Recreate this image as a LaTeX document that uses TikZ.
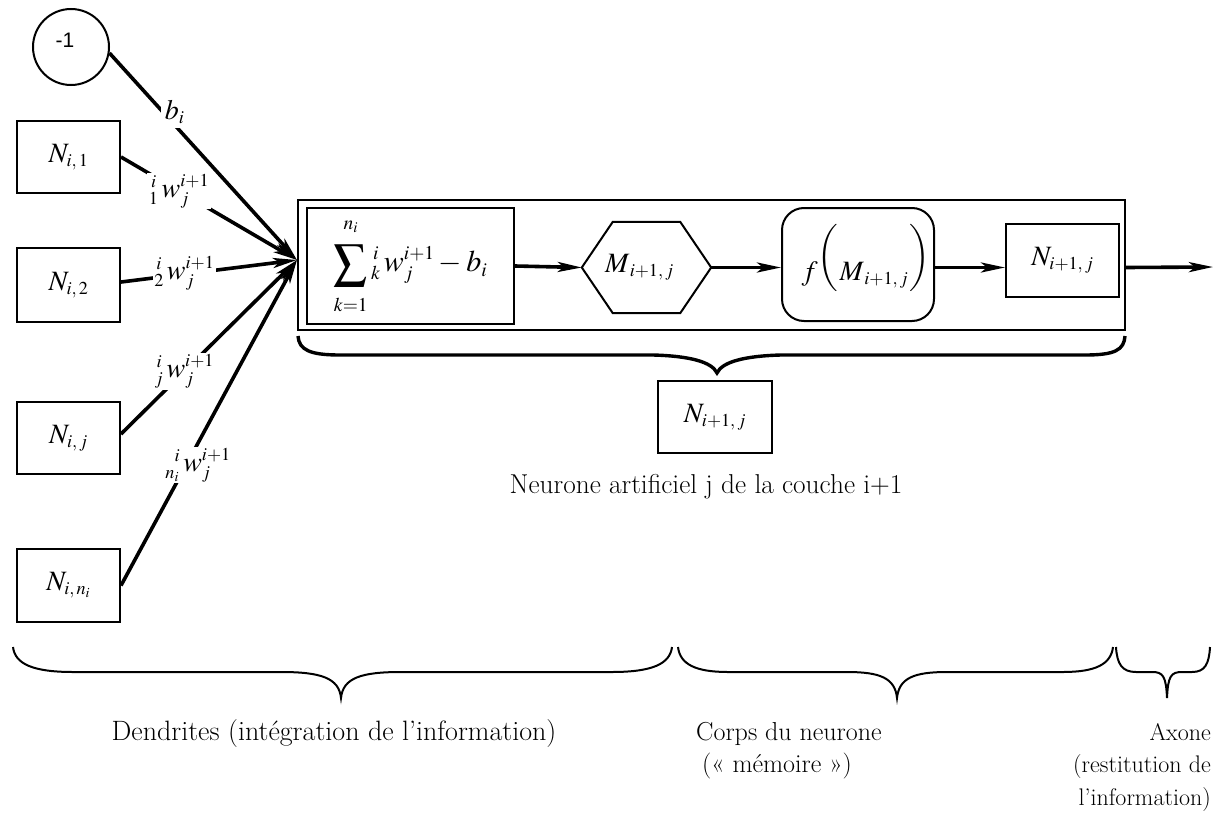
\documentclass[tikz,border=0pt]{standalone}
\usepackage{mathptmx}
\usepackage[no-math]{fontspec}
\renewcommand{\rmdefault}{lmr}
\usepackage{graphicx}
\newfontfamily\arialf{Liberation Sans}
\renewcommand{\defaultscriptratio}{.65}
\renewcommand{\defaultscriptscriptratio}{.5}
\usetikzlibrary{arrows.meta}
\newcommand{\bigsum}{\mathop{\vcenter{\vbox{\kern9pt\hbox{\resizebox*{34pt}{42pt}{$\displaystyle\sum$}}\kern6pt}}}\limits}
\newcommand{\lparen}{\raisebox{16pt}{$\left(\rule[-25pt]{0pt}{64pt}\right.$}}
\newcommand{\rparen}{\raisebox{16pt}{$\left.\rule[-25pt]{0pt}{64pt}\right)$}}
\tikzset{
  nbox/.style={draw, line width=2pt, inner sep=0pt, font=\fontsize{28}{30}\selectfont},
  conn/.style={line width=3.6pt, -{Stealth[length=24pt,width=10pt,inset=6pt]}},
  elab/.style={fill=white, inner sep=1.5pt, font=\fontsize{28}{30}\selectfont},
  bigm/.style={font=\fontsize{28}{30}\selectfont},
  txt/.style={font=\fontsize{26}{32.5}\selectfont, inner sep=0pt},
  thinbrace/.style={line width=2pt},
  thickbrace/.style={line width=3.4pt},
}
\begin{document}
\begin{tikzpicture}[x=1pt,y=-1pt]
\useasboundingbox (0,0) rectangle (1215,816);

% input neurons
\node[circle, draw, line width=2pt, minimum size=76pt, inner sep=0pt, font=\arialf\fontsize{21}{21}\selectfont] (bias) at (71,47)
  {\smash{\raisebox{-1pt}{\makebox[0pt]{-1\hspace*{12pt}}}}};
\node[nbox, minimum width=103pt, minimum height=72pt] (n1) at (68.5,157) {$N_{i,\,1}$};
\node[nbox, minimum width=103pt, minimum height=74pt] (n2) at (68.5,285) {$N_{i,\,2}$};
\node[nbox, minimum width=103pt, minimum height=72pt] (nj) at (68.5,438) {$N_{i,\,j}$};
\node[nbox, minimum width=103pt, minimum height=73pt] (nn) at (68.5,585.5) {$N_{i,\,n_i}$};

% artificial neuron
\node[draw, line width=1.5pt, minimum width=827pt, minimum height=130pt, inner sep=0pt] (outer) at (711.5,265) {};
\node[nbox, font=\fontsize{30}{32}\selectfont, minimum width=207pt, minimum height=116pt] (sum) at (410.5,266)
  {$\displaystyle\bigsum_{k=1}^{n_i}{}^{\,i}_{k}\,w^{i+1}_{j}-b_i$};
\node[bigm, minimum width=129pt, minimum height=91pt, inner sep=0pt] (hex) at (646.5,267.5)
  {$M_{\,i+1,\,j}$\hspace*{14pt}};
\draw[line width=2pt] (hex.west) -- ([xshift=31pt]hex.north west) -- ([xshift=-31pt]hex.north east)
  -- (hex.east) -- ([xshift=-31pt]hex.south east) -- ([xshift=31pt]hex.south west) -- cycle;
\node[nbox, bigm, rounded corners=22pt, minimum width=152pt, minimum height=113pt] (fbox) at (858,264.5)
  {\hspace*{16pt}$f\lparen M_{\,i+1,\,j}\rparen$\rule[-24pt]{0pt}{0pt}};
\node[nbox, minimum width=113pt, minimum height=73pt] (nout) at (1062.5,260.5) {$N_{i+1,\,j}$};
\coordinate (outend) at (1213,267);
\coordinate (conv) at (297,260);

% inner arrows
\draw[conn] (sum.east) -- (hex.west);
\draw[conn] (hex.east) -- (hex.east -| fbox.west);
\draw[conn] (fbox.east |- hex.east) -- (nout.west |- hex.east);
\draw[conn] (outer.east |- hex.east) -- (outend);

% input connections
\draw[conn] (bias.-9) -- node[elab, pos=0.3, xshift=9pt, yshift=3pt, inner sep=4pt] {$b_i$} (conv);
\draw[conn] (n1.east) -- node[elab, pos=0.33] {${}^{\,i}_{1}\,w^{i+1}_{j}$} (conv);
\draw[conn] ([yshift=3pt]n2.east) -- node[elab, pos=0.36, yshift=1pt] {${}^{\,i}_{2}\,w^{i+1}_{j}$} (conv);
\draw[conn] ([yshift=4pt]nj.east) -- node[elab, pos=0.36] {${}^{\,i}_{j}\,w^{i+1}_{j}$} (conv);
\draw[conn] (nn.east) -- node[elab, pos=0.37, xshift=12pt] {${}^{\hphantom{n}i}_{n_i}\,w^{i+1}_{j}$} (conv);

% brace under the neuron
\draw[thickbrace] (298,336) .. controls (299,350) and (310,355) .. (340,355) -- (653,355)
  .. controls (690,356) and (712,362) .. (717,373)
  .. controls (722,362) and (744,356) .. (781,355) -- (1085,355)
  .. controls (1115,355) and (1124,350) .. (1125,336);
\node[nbox, minimum width=114pt, minimum height=72pt] (nlow) at (715,417) {$N_{i+1,\,j}$};
\node[txt, font=\fontsize{27.3}{32.5}\selectfont, anchor=base] (title) at (706,493) {Neurone artificiel j de la couche i+1};

% bottom braces
\draw[thinbrace] (13,647) .. controls (15,664) and (33,672) .. (73,672) -- (281,672)
  .. controls (321,672) and (339,678) .. (341,698)
  .. controls (343,678) and (361,672) .. (401,672) -- (612,672)
  .. controls (652,672) and (670,664) .. (672,647);
\draw[thinbrace] (678,647) .. controls (680,664) and (695,672) .. (728,672) -- (847,672)
  .. controls (880,672) and (895,678) .. (897,698)
  .. controls (899,678) and (914,672) .. (947,672) -- (1063,672)
  .. controls (1096,672) and (1111,664) .. (1113,647);
\draw[thinbrace] (1116,647) .. controls (1117,664) and (1122,672) .. (1136,672) -- (1152,672)
  .. controls (1163,672) and (1166,676) .. (1167,698)
  .. controls (1168,676) and (1171,672) .. (1182,672) -- (1192,672)
  .. controls (1205,672) and (1209,664) .. (1210,647);

\node[txt, font=\fontsize{28}{32.5}\selectfont, anchor=base] (dend) at (334,740) {Dendrites (intégration de l’information)};
\node[txt, anchor=base west] (corps) at (696,740)
  {\begin{tabular}[t]{@{}l@{}}Corps du neurone\\\hspace*{6pt}(«~mémoire~»)\end{tabular}};
\node[txt, font=\fontsize{24}{32.5}\selectfont, anchor=base east] (axone) at (1211,740)
  {\begin{tabular}[t]{@{}r@{}}Axone\\(restitution de\\l’information)\end{tabular}};
\end{tikzpicture}
\end{document}
